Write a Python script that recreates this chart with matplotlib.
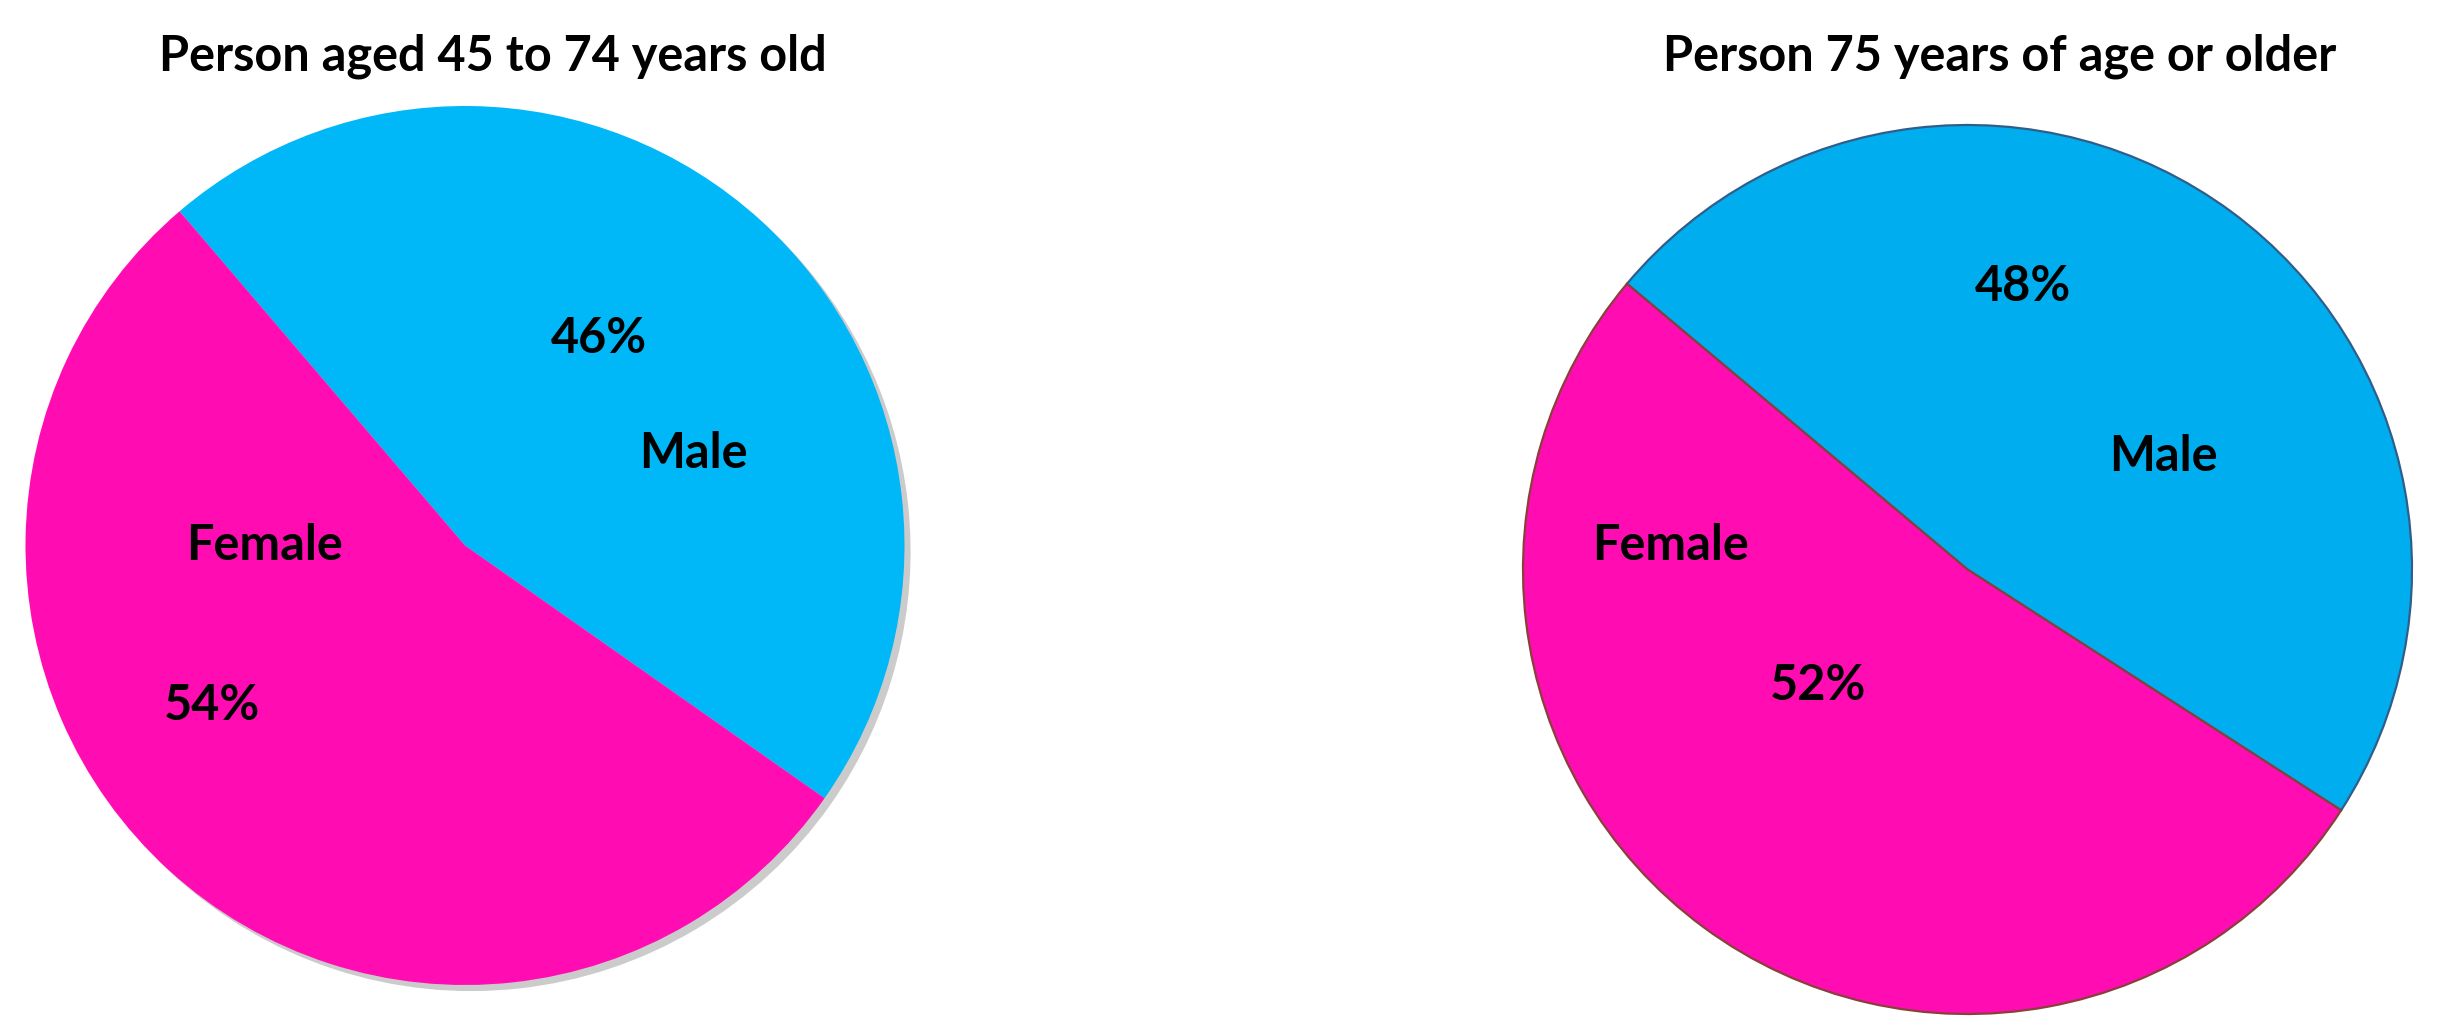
import matplotlib
matplotlib.use("Agg")
import matplotlib.pyplot as plt

# Data
titles = ["Person aged 45 to 74 years old", "Person 75 years of age or older"]
categories = ["Male", "Female"]
values_45_74 = [46, 54]
values_75_plus = [48, 52]
pct_labels_45_74 = ["46%", "54%"]
pct_labels_75_plus = ["48%", "52%"]

plt.rcParams['font.family'] = ['Lato', 'DejaVu Sans']

W, H = 2440, 1034
fig = plt.figure(figsize=(W / 100, H / 100), dpi=100)
fig.patch.set_facecolor("white")

def px_axes(x0, x1, ytop, ybot):
    return fig.add_axes([x0 / W, (H - ybot) / H, (x1 - x0) / W, (ybot - ytop) / H])

# Left pie
ax1 = px_axes(25, 905, 106, 985)
ax1.pie(values_45_74, colors=["#00B7F7", "#FF0DB3"], startangle=130.5,
        counterclock=False, radius=1,
        wedgeprops=dict(linewidth=0),
        shadow=dict(ox=0.01, oy=-0.01, facecolor="0.6", alpha=0.5))
ax1.set_xlim(-1, 1)
ax1.set_ylim(-1, 1)
ax1.set_aspect("equal")
ax1.axis("off")

lbl_kw = dict(fontsize=35, fontweight="bold", ha="center", va="center", color="black")
ax1.text(0.305, 0.472, pct_labels_45_74[0], **lbl_kw)
ax1.text(0.52, 0.21, categories[0], **lbl_kw)
ax1.text(-0.457, 0.0, categories[1], **lbl_kw)
ax1.text(-0.576, -0.363, pct_labels_45_74[1], **lbl_kw)

# Right pie
ax2 = px_axes(1523, 2412, 124.5, 1014.5)
wedges, _ = ax2.pie(values_75_plus, colors=["#00AEEF", "#FF0DB3"], startangle=140,
                    counterclock=False, radius=1,
                    wedgeprops=dict(linewidth=1.6))
wedges[0].set_edgecolor("#2F5E8A")
wedges[1].set_edgecolor("#8A3F3A")
ax2.set_xlim(-1, 1)
ax2.set_ylim(-1, 1)
ax2.set_aspect("equal")
ax2.axis("off")

ax2.text(0.125, 0.637, pct_labels_75_plus[0], **lbl_kw)
ax2.text(0.44, 0.255, categories[0], **lbl_kw)
ax2.text(-0.669, 0.053, categories[1], **lbl_kw)
ax2.text(-0.337, -0.262, pct_labels_75_plus[1], **lbl_kw)

# Titles
title_kw = dict(fontsize=35, fontweight="bold", ha="center", va="center", color="black")
fig.text(493 / W, 1 - 56 / H, titles[0], **title_kw)
fig.text(2000 / W, 1 - 56 / H, titles[1], **title_kw)

fig.savefig("out.png", dpi=100, facecolor="white")
